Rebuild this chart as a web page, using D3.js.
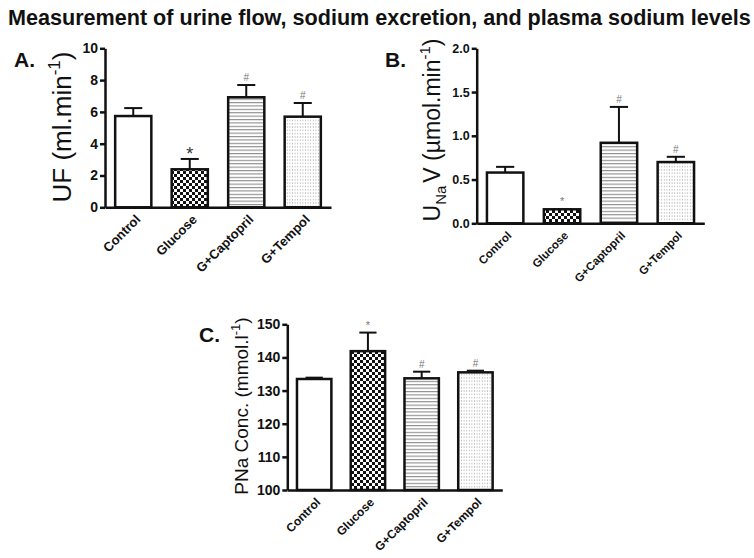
<!DOCTYPE html>
<html>
<head>
<meta charset="utf-8">
<script src="https://cdn.jsdelivr.net/npm/d3@7/dist/d3.min.js"></script>
<style>
body { margin: 0; background: #fff; }
svg { display: block; font-family: "Liberation Sans", Arial, sans-serif; }
</style>
</head>
<body>
<script>
// groups shared by all three panels
var groups = ["Control", "Glucose", "G+Captopril", "G+Tempol"];
var fills = ["white", "url(#checker)", "url(#hlines)", "url(#dots)"];

// A. urine flow (ml/min)
var ufMean = [5.74, 2.39, 6.92, 5.70];
var ufSem = [0.50, 0.65, 0.77, 0.86];
var ufMarks = ["", "*", "#", "#"];
var ufTicks = [0, 2, 4, 6, 8, 10];

// B. sodium excretion (umol/min)
var unaMean = [0.58, 0.16, 0.92, 0.70];
var unaSem = [0.065, 0.0, 0.41, 0.06];
var unaMarks = ["", "*", "#", "#"];
var unaTicks = [0, 0.5, 1.0, 1.5, 2.0];

// C. plasma sodium (mmol/l)
var pnaMean = [133.5, 141.9, 133.7, 135.5];
var pnaSem = [0.4, 5.6, 2.0, 0.5];
var pnaMarks = ["", "*", "#", "#"];
var pnaTicks = [100, 110, 120, 130, 140, 150];

var width = 754, height = 558;

var svg = d3.select("body").append("svg")
    .attr("width", width)
    .attr("height", height);

// fill patterns
var defs = svg.append("defs");

var chk = defs.append("pattern").attr("id", "checker")
    .attr("patternUnits", "userSpaceOnUse")
    .attr("width", 6).attr("height", 6);
chk.append("rect").attr("width", 6).attr("height", 6).attr("fill", "white");
chk.append("rect").attr("width", 3).attr("height", 3).attr("fill", "#111");
chk.append("rect").attr("x", 3).attr("y", 3).attr("width", 3).attr("height", 3).attr("fill", "#111");

var hl = defs.append("pattern").attr("id", "hlines")
    .attr("patternUnits", "userSpaceOnUse")
    .attr("width", 6).attr("height", 3.4);
hl.append("rect").attr("width", 6).attr("height", 3.4).attr("fill", "white");
hl.append("rect").attr("y", 0).attr("width", 6).attr("height", 1.1).attr("fill", "#8c8c8c");

var dt = defs.append("pattern").attr("id", "dots")
    .attr("patternUnits", "userSpaceOnUse")
    .attr("width", 2.6).attr("height", 3.3);
dt.append("rect").attr("width", 2.6).attr("height", 3.3).attr("fill", "white");
dt.append("rect").attr("x", 0.8).attr("y", 1.2).attr("width", 0.9).attr("height", 0.9).attr("fill", "#8a8a8a");

// title, stretched to span the page like the original
svg.append("text")
    .attr("transform", "translate(8,25) scale(1.08,1.14)")
    .style("font-size", "20px")
    .style("font-weight", "bold")
    .style("fill", "#111")
    .text("Measurement of urine flow, sodium excretion, and plasma sodium levels");

function drawPanel(p) {
    var g = svg.append("g");

    var x = d3.scaleBand()
        .domain(groups)
        .range([p.x0, p.x1])
        .paddingInner(0.36)
        .paddingOuter(0.18);

    var y = d3.scaleLinear()
        .domain(p.domain)
        .range([p.y0, p.y1]);

    var bw = x.bandwidth();

    // error bars (upper only)
    var eb = g.selectAll(".err")
        .data(groups)
        .enter()
        .append("g");
    eb.append("line")
        .attr("x1", d => x(d) + bw / 2)
        .attr("x2", d => x(d) + bw / 2)
        .attr("y1", (d, i) => y(p.mean[i]))
        .attr("y2", (d, i) => y(p.mean[i] + p.sem[i]))
        .attr("stroke", "#111")
        .attr("stroke-width", 2);
    eb.append("line")
        .attr("x1", d => x(d) + bw / 4)
        .attr("x2", d => x(d) + bw * 3 / 4)
        .attr("y1", (d, i) => y(p.mean[i] + p.sem[i]))
        .attr("y2", (d, i) => y(p.mean[i] + p.sem[i]))
        .attr("stroke", "#111")
        .attr("stroke-width", 2);

    // bars
    g.selectAll(".bar")
        .data(groups)
        .enter()
        .append("rect")
        .attr("x", d => x(d))
        .attr("width", bw)
        .attr("y", (d, i) => y(p.mean[i]))
        .attr("height", (d, i) => y(p.domain[0]) - y(p.mean[i]))
        .attr("fill", (d, i) => fills[i])
        .attr("stroke", "#111")
        .attr("stroke-width", 2.5);

    // significance marks
    g.selectAll(".mark")
        .data(groups)
        .enter()
        .append("text")
        .attr("x", d => x(d) + bw / 2)
        .attr("y", (d, i) => y(p.mean[i] + p.sem[i]) - (p.marks[i] === "*" ? p.starOff : 4))
        .style("text-anchor", "middle")
        .style("font-size", (d, i) => p.marks[i] === "*" ? p.starSize + "px" : "10px")
        .style("fill", (d, i) => p.marks[i] === "*" ? p.starColor : "#777")
        .text((d, i) => p.marks[i]);

    // y axis
    var ya = g.append("g")
        .attr("transform", `translate(${p.x0},0)`)
        .call(d3.axisLeft(y).tickValues(p.ticks).tickSize(5).tickSizeOuter(0).tickPadding(2)
            .tickFormat(p.fmt));
    ya.select(".domain").attr("stroke", "#111").attr("stroke-width", 2.5);
    ya.selectAll(".tick line").attr("stroke", "#111").attr("stroke-width", 2.5);
    ya.selectAll("text")
        .style("font-size", p.tickSize + "px")
        .style("font-weight", "bold")
        .style("fill", "#111")
        .style("font-family", "'Liberation Sans', Arial, sans-serif");

    // x axis
    var xa = g.append("g")
        .attr("transform", `translate(0,${p.y0})`)
        .call(d3.axisBottom(x).tickSize(0).tickSizeOuter(0));
    xa.select(".domain").attr("stroke", "#111").attr("stroke-width", 2.5);
    xa.selectAll("text")
        .attr("y", 0)
        .attr("dy", 0)
        .attr("transform", `translate(${p.lx},${p.ly}) rotate(-45)`)
        .style("text-anchor", "end")
        .style("font-size", p.labSize + "px")
        .style("font-weight", "bold")
        .style("fill", "#111")
        .style("font-family", "'Liberation Sans', Arial, sans-serif");

    // panel letter
    g.append("text")
        .attr("x", p.letterX)
        .attr("y", p.letterY)
        .style("font-size", "21px")
        .style("font-weight", "bold")
        .style("fill", "#111")
        .text(p.letter);

    // y label with sub/superscripts
    var t = g.append("text")
        .attr("transform", `translate(${p.ylx},${p.yly}) rotate(-90)`)
        .style("text-anchor", "middle")
        .style("font-size", p.ylSize + "px")
        .style("fill", "#111");
    p.ylParts.forEach(function(part) {
        t.append("tspan")
            .attr("dy", part.dy || 0)
            .attr("dx", part.dx || 0)
            .style("font-size", (part.size || p.ylSize) + "px")
            .text(part.t);
    });
}

drawPanel({
    letter: "A.", letterX: 14, letterY: 67,
    mean: ufMean, sem: ufSem, marks: ufMarks, ticks: ufTicks,
    domain: [0, 10], fmt: d3.format("d"),
    x0: 105, x1: 331, y0: 207.3, y1: 48.3,
    tickSize: 14, labSize: 13, lx: 8, ly: 13,
    starSize: 18, starOff: -1, starColor: "#333",
    ylx: 71, yly: 127, ylSize: 26,
    ylParts: [{t: "UF (ml.min"}, {t: "-1", size: 17, dy: -11}, {t: ")", dy: 11}]
});

drawPanel({
    letter: "B.", letterX: 385, letterY: 67,
    mean: unaMean, sem: unaSem, marks: unaMarks, ticks: unaTicks,
    domain: [0, 2], fmt: d3.format(".1f"),
    x0: 476.7, x1: 704.3, y0: 223.3, y1: 48.3,
    tickSize: 12.5, labSize: 11.5, lx: 7, ly: 13,
    starSize: 11, starOff: 4, starColor: "#777",
    ylx: 440, yly: 130, ylSize: 23,
    ylParts: [{t: "U"}, {t: "Na", size: 15, dy: 6}, {t: "V (µmol.min", dy: -6, dx: 3},
              {t: "-1", size: 15, dy: -10}, {t: ")", dy: 10}]
});

drawPanel({
    letter: "C.", letterX: 199, letterY: 342,
    mean: pnaMean, sem: pnaSem, marks: pnaMarks, ticks: pnaTicks,
    domain: [100, 150], fmt: d3.format("d"),
    x0: 287.3, x1: 502.3, y0: 490, y1: 324.3,
    tickSize: 14, labSize: 12, lx: 7, ly: 13,
    starSize: 11, starOff: 4, starColor: "#777",
    ylx: 248, yly: 406, ylSize: 19,
    ylParts: [{t: "PNa Conc. (mmol.l"}, {t: "-1", size: 13, dy: -8}, {t: ")", dy: 8}]
});
</script>
</body>
</html>
